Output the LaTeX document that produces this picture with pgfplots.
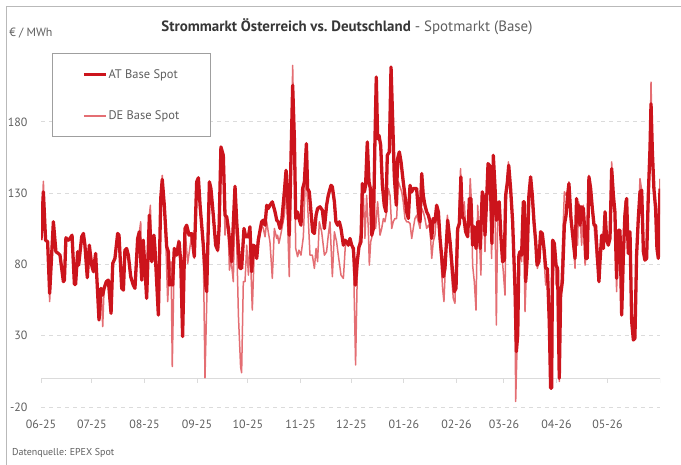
\documentclass[border=0pt]{standalone}
\usepackage{fontspec}
\setmainfont{PT Sans}
\usepackage{pgfplots}
\pgfplotsset{compat=1.18}
\definecolor{atred}{RGB}{204,20,28}
\definecolor{dered}{RGB}{228,110,115}
\definecolor{txtgray}{RGB}{95,95,95}
\definecolor{titlegray}{RGB}{55,55,55}
\begin{document}
\begin{tikzpicture}
\useasboundingbox (0,0) rectangle (681bp,-465bp);
\draw[gray!55, line width=1bp] (6bp,-465bp) -- (6bp,-6bp) -- (681bp,-6bp);
\begin{axis}[
  at={(41bp,-407bp)}, anchor=south west,
  scale only axis, width=619bp, height=363.6bp,
  xmin=0, xmax=365, ymin=-20, ymax=235,
  axis line style={draw=none},
  major tick length=0pt,
  xtick={0,30,61,92,122,153,183,214,245,273,304,334},
  xticklabels={06-25,07-25,08-25,09-25,10-25,11-25,12-25,01-26,02-26,03-26,04-26,05-26},
  ytick={-20,30,80,130,180},
  ymajorgrids,
  grid style={color=gray!28, line width=0.8bp, dash pattern=on 4bp off 4bp},
  tick label style={font=\fontsize{12}{14}\selectfont, text=txtgray},
  yticklabel style={xshift=-10bp},
  xticklabel style={yshift=-9bp},
  /pgf/number format/assume math mode=true,
  legend style={at={(0.0173,0.9744)}, anchor=north west, draw=gray!75, line width=1bp, fill=white,
    inner xsep=30bp, inner ysep=15bp, row sep=29bp,
    font=\fontsize{12.5}{15}\selectfont, text=txtgray,
    nodes={inner sep=1bp}},
  legend cell align=left,
  legend image code/.code={\draw[#1] (0bp,0bp) -- (22bp,0bp);},
  reverse legend,
]
\draw[gray!28, line width=1bp] (axis cs:0,0) -- (axis cs:365,0);
\pgfplotsinvokeforeach{0,30,61,92,122,153,183,214,245,273,304,334,365}{
  \draw[gray!28, line width=1bp] (axis cs:#1,0) -- ([yshift=-4.5bp]axis cs:#1,0);
}
% DE Base Spot
\addplot[dered, line width=1.5bp, line join=round] coordinates {
(0.0,97.0) (1.4,138.3) (2.7,97.0) (3.9,95.9) (5.1,53.9) (7.3,109.9) (8.8,88.9) (10.2,87.7) (11.2,86.5) (13.2,67.9) (13.8,69.0) (14.7,98.7) (16.1,97.0) (17.1,98.2) (18.3,100.5) (19.7,66.0) (20.4,66.0) (21.6,88.9) (22.2,79.5) (24.0,99.4) (25.0,101.7) (25.9,93.5) (27.3,70.7) (28.5,93.5) (29.9,79.5) (30.9,74.9) (32.2,87.7) (34.2,41.0) (35.4,63.2) (36.4,36.4) (37.2,63.2) (38.5,67.9) (39.7,69.0) (41.3,45.7) (42.3,80.7) (43.6,84.2) (45.2,101.7) (46.0,100.5) (47.6,63.2) (48.6,62.0) (49.5,90.0) (50.5,91.2) (51.5,86.5) (52.9,71.4) (54.4,65.5) (55.4,63.2) (57.0,98.2) (58.0,102.9) (58.8,109.9) (59.4,69.0) (60.3,97.0) (62.3,56.2) (63.9,114.5) (64.5,121.5) (65.3,81.9) (66.6,100.5) (67.2,91.2) (69.2,44.5) (70.6,126.2) (71.5,142.5) (73.1,114.5) (74.7,53.9) (75.7,77.2) (76.7,81.9) (77.4,8.4) (78.6,86.5) (80.0,91.2) (81.0,97.0) (82.4,77.2) (83.5,29.4) (84.9,105.2) (86.5,80.7) (88.8,100.5) (90.4,84.2) (91.8,135.5) (92.8,141.4)
(93.8,119.2) (95.7,91.2) (96.7,0.5) (97.7,51.5) (99.3,135.5) (100.2,128.5) (101.6,112.2) (103.0,92.4) (104.2,88.9) (105.0,102.9) (106.1,160.0) (107.5,151.9) (108.5,100.5) (109.5,112.2) (110.5,100.5) (111.1,76.0) (112.0,84.2) (113.4,67.9) (114.4,128.5) (115.4,95.9) (116.4,44.5) (117.7,8.0) (118.3,4.0) (119.3,67.9) (120.3,67.9) (121.3,93.5) (122.3,72.5) (123.2,95.9) (124.6,48.0) (125.8,91.2) (127.2,84.2) (128.1,93.5) (130.1,107.5) (131.1,105.2) (132.1,99.4) (133.1,109.9) (134.0,102.9) (135.0,95.9) (136.4,70.2) (137.6,105.2) (139.0,98.2) (139.5,100.5) (140.3,94.7) (141.5,101.7)
(143.5,114.5) (144.5,133.2) (145.4,109.9) (146.4,71.4) (147.4,144.9) (148.4,219.6) (149.4,156.5) (150.2,91.2) (151.3,85.4) (152.1,90.0) (153.3,86.5) (154.7,99.4) (155.7,133.2) (156.6,137.9) (157.6,112.2) (158.6,86.5) (160.0,86.5) (161.2,77.2) (162.2,91.2) (163.1,81.9) (164.1,109.9) (165.5,102.9) (167.1,86.5) (168.4,88.9) (169.4,100.5) (170.4,109.9) (171.8,71.4) (173.0,102.9) (174.3,95.9) (175.3,86.5) (176.9,72.5) (178.3,70.2) (179.6,95.9) (181.2,93.5) (182.8,95.9) (184.2,86.5) (185.5,9.5) (186.7,86.5) (188.1,100.0)
(189.1,105.2) (190.1,128.5) (191.0,98.2) (192.0,128.5) (193.0,105.2) (193.6,79.5) (194.4,95.9) (195.4,100.5) (196.3,116.9) (197.3,105.2) (198.5,123.9) (199.3,109.9) (199.9,100.5) (200.9,105.2) (201.9,112.2) (202.8,109.9) (203.8,116.9) (204.8,133.2) (205.8,128.5) (206.8,105.2) (207.7,109.9) (208.7,112.2) (209.7,112.2) (210.7,137.9) (211.7,134.4) (212.7,130.9) (213.6,123.9) (214.6,112.2) (215.6,109.9) (216.6,109.9) (217.6,108.7) (218.6,98.2) (219.5,105.2) (220.5,112.2) (221.5,114.5) (222.5,109.9) (223.5,105.2) (224.5,119.2) (225.4,116.9) (226.4,112.2) (227.4,105.2) (228.4,107.5) (229.4,105.2) (230.4,84.2) (231.3,95.9) (232.3,100.5) (233.3,116.9) (234.7,102.9)
(235.9,81.9) (236.8,63.2) (237.6,53.9) (238.6,81.9) (239.6,114.5) (240.8,98.2) (242.1,72.5) (243.1,56.2) (244.1,52.7) (245.1,102.9) (246.1,105.2) (247.4,147.2) (248.4,112.2) (249.6,123.9) (250.6,100.5) (252.0,105.2) (253.1,140.2) (253.9,121.5) (254.5,79.5) (255.5,67.9) (256.5,48.0) (257.5,121.5) (258.5,98.2) (259.4,72.5) (260.2,130.9) (261.0,119.2) (261.8,88.9) (262.8,126.2) (263.8,140.2) (264.7,133.2) (265.7,84.2) (266.7,154.2) (267.7,121.5) (268.5,37.5) (269.3,114.5) (270.2,121.5) (271.2,93.5) (272.6,74.9) (273.6,58.5) (274.4,128.5) (275.6,151.9) (276.9,133.2) (278.1,105.2) (279.5,51.5) (279.9,-16.1) (280.7,21.2) (281.5,74.9) (282.4,88.9)
(283.4,81.9) (284.4,123.9) (285.4,46.9) (286.4,81.9) (287.7,123.9) (288.7,140.2) (290.3,109.9) (291.7,95.9) (292.7,77.2) (293.6,81.9) (294.6,102.9) (296.2,91.2) (297.6,65.5) (298.6,77.2) (299.7,32.9) (300.5,-6.8) (301.1,-6.8) (301.7,97.0) (302.7,86.5) (303.7,65.5) (304.6,77.2) (305.6,-2.1) (306.6,63.2) (308.6,130.9) (309.6,128.5) (310.5,130.9) (311.3,137.9) (312.5,114.5) (313.9,93.5) (314.9,77.2) (315.8,123.9) (316.4,93.5) (317.0,123.9) (317.8,114.5) (318.8,93.5) (319.8,121.5) (320.8,79.5) (321.7,88.9) (323.1,142.5) (324.7,121.5) (326.1,107.5) (327.6,84.2) (329.0,70.2)
(329.6,81.9) (330.6,100.5) (331.6,91.2) (332.6,116.9) (333.5,98.2) (334.5,93.5) (335.5,98.2) (336.5,151.9) (337.5,128.5) (338.4,116.9) (339.4,60.9) (340.4,104.0) (341.4,104.0) (342.4,44.5) (343.4,86.5) (344.3,123.9) (345.3,126.2) (346.3,87.7) (347.3,102.9) (348.3,39.9) (349.3,27.0) (350.2,28.2) (351.2,86.5) (352.2,112.2) (353.2,140.2) (354.2,132.0) (355.2,88.9) (356.1,83.0) (357.1,84.2) (358.1,128.5) (359.1,161.2) (359.7,207.9) (360.5,158.9) (361.4,130.9) (362.4,119.2) (363.2,91.2) (364.0,84.2) (365.0,140.2)
};
\addlegendentry{DE Base Spot}
% AT Base Spot
\addplot[atred, line width=3.3bp, line join=round] coordinates {
(0.0,97.0) (1.4,130.9) (2.7,97.0) (3.9,95.9) (5.1,59.7) (7.3,109.9) (8.8,88.9) (10.2,87.7) (11.2,86.5) (13.2,67.9) (13.8,69.0) (14.7,98.7) (16.1,97.0) (17.1,98.2) (18.3,100.5) (19.7,66.0) (20.4,66.0) (21.6,88.9) (22.2,79.5) (24.0,99.4) (25.0,101.7) (25.9,93.5) (27.3,70.7) (28.5,93.5) (29.9,79.5) (30.9,74.9) (32.2,87.7) (34.2,41.0) (35.4,63.2) (36.4,58.5) (37.2,63.2) (38.5,67.9) (39.7,69.0) (41.3,45.7) (42.3,80.7) (43.6,84.2) (45.2,101.7)
(46.0,100.5) (47.6,63.2) (48.6,62.0) (49.5,90.0) (50.5,91.2) (51.5,86.5) (52.9,71.4) (54.4,65.5) (55.4,63.2) (57.0,98.2) (58.0,102.9) (59.4,69.0) (60.3,97.0) (62.3,56.2) (63.9,114.5) (65.3,81.9) (66.6,100.5) (67.2,91.2) (69.2,44.5) (70.6,126.2) (71.5,139.7) (72.7,121.5) (74.1,92.4) (75.1,88.9) (75.7,65.5) (76.7,66.7) (77.6,65.5) (78.6,91.2) (80.0,86.5) (81.4,95.9) (82.4,81.9) (83.5,29.4) (84.9,105.2) (85.9,107.5) (87.3,100.5) (88.8,101.7) (90.4,85.4) (91.8,137.9) (92.8,140.7)
(93.8,121.5) (95.7,93.5) (97.3,63.2) (97.7,60.9) (99.3,137.9) (100.2,133.2) (101.6,114.5) (103.0,93.5) (104.2,90.0) (105.0,105.2) (106.1,162.4) (107.5,156.5) (108.5,114.5) (109.5,113.4) (110.5,105.2) (111.6,91.2) (112.4,81.9) (114.4,134.8) (115.4,109.9) (116.4,91.2) (117.3,77.2) (118.3,77.2) (119.7,105.2) (120.7,99.4) (122.3,99.4) (123.2,106.4) (124.2,74.9) (125.2,93.5) (126.2,92.4) (127.2,84.2) (128.1,97.0) (130.1,109.9) (131.1,111.0) (132.1,107.5) (133.1,121.5) (134.0,119.2) (135.0,121.5) (136.4,123.9) (138.0,116.9) (139.0,111.0) (139.9,109.9) (140.9,105.2)
(141.9,109.9) (143.5,130.9) (144.5,146.0) (145.4,128.5) (146.4,100.5) (147.4,154.2) (148.4,205.6) (149.4,168.2) (150.2,112.2) (151.1,116.9) (152.1,112.2) (153.3,107.5) (154.3,133.2) (155.3,137.9) (156.5,164.7) (157.2,133.2) (158.2,130.9) (159.2,116.9) (160.2,102.9) (161.2,101.7) (162.2,114.5) (163.1,119.2) (164.5,120.4) (165.9,118.0) (167.1,105.2) (168.4,121.5) (169.4,128.5) (171.0,135.5) (171.8,134.4) (173.0,123.9) (173.9,109.9) (174.9,107.5) (175.9,109.9) (176.9,105.2) (178.3,93.5) (179.3,97.0) (180.2,95.9) (181.2,93.5) (182.2,98.2) (183.2,93.5) (184.2,91.2) (185.4,65.5) (186.5,81.9) (187.5,92.4) (188.7,95.9)
(189.5,136.7) (190.7,130.9) (191.4,135.5) (192.4,165.9) (193.4,137.9) (194.2,133.2) (195.0,100.5) (196.0,105.2) (196.9,165.9) (197.7,211.4) (198.5,168.2) (199.3,170.5) (200.3,163.5) (201.3,135.5) (202.4,121.5) (203.4,116.9) (204.2,156.5) (205.4,158.9) (206.4,218.4) (207.4,179.9) (208.3,142.5) (209.5,121.5) (210.3,154.2) (211.3,158.9) (212.3,151.9) (213.6,137.9) (214.6,128.5) (215.6,116.9) (216.6,112.2) (217.6,135.5) (218.6,130.9) (219.5,133.2) (221.5,133.2) (222.5,116.9) (223.5,109.9) (224.5,143.7) (225.4,128.5) (226.4,121.5) (227.4,116.9) (228.4,114.5) (229.4,109.9) (230.4,98.2) (231.3,112.2) (232.3,109.9) (233.3,121.5) (234.3,116.9)
(235.3,98.0) (236.2,86.5) (237.2,71.4) (238.2,77.2) (239.8,111.0) (241.2,95.9) (242.5,77.2) (243.7,60.9) (244.7,63.2) (245.7,105.2) (246.7,108.7) (247.6,141.4) (248.4,113.4) (249.4,112.2) (250.4,102.9) (251.6,99.4) (252.6,126.2) (253.5,126.2) (254.5,93.5) (255.5,106.4) (256.5,91.2) (257.5,109.9) (258.3,109.9) (259.0,91.2) (260.2,130.9) (261.2,126.2) (261.8,100.5) (262.8,126.2) (263.6,150.7) (264.4,149.5) (265.3,123.9) (265.9,94.7) (266.7,156.5) (267.7,134.4) (268.5,111.0) (269.3,122.7) (270.2,123.9) (271.2,99.4) (272.2,81.9) (273.2,83.0) (274.0,128.5) (275.0,137.9) (275.8,149.5) (276.9,133.2) (278.1,109.9) (279.5,63.2) (280.3,18.9) (281.1,30.5) (281.8,86.5)
(282.4,88.9) (283.4,86.5) (284.4,123.9) (285.0,123.9) (285.8,67.9) (286.6,81.9) (287.7,128.5) (288.7,141.4) (289.7,128.5) (290.7,109.9) (291.7,95.9) (292.5,79.5) (293.6,81.9) (294.6,102.9) (295.6,101.7) (296.6,91.2) (297.6,77.2) (298.6,77.2) (299.7,39.9) (300.5,-6.8) (301.1,-6.8) (301.7,97.0) (302.7,94.7) (303.7,79.5) (304.6,77.2) (305.6,0.2) (306.4,58.5) (307.4,67.9) (308.6,107.5) (309.6,114.5) (310.5,128.5) (311.3,136.7) (312.5,112.2) (313.9,95.9) (314.9,84.2) (315.8,126.2) (316.4,109.9) (317.0,121.5) (317.8,107.5) (318.8,120.4) (319.8,119.2) (320.4,107.5) (321.2,84.2) (322.1,84.2) (323.1,141.4) (324.1,133.2) (325.1,119.2) (326.1,107.5) (327.0,107.5) (328.0,86.5) (329.0,67.9)
(329.6,81.9) (330.6,100.5) (331.6,91.2) (332.6,116.9) (333.5,98.2) (334.5,93.5) (335.5,98.2) (336.5,147.2) (337.5,128.5) (338.4,116.9) (339.4,70.2) (340.4,104.0) (341.4,104.0) (342.4,44.5) (343.4,86.5) (344.3,114.5) (345.3,126.2) (346.3,87.7) (347.3,102.9) (348.3,39.9) (349.3,27.0) (350.2,28.2) (351.2,86.5) (352.2,112.2) (353.2,130.9) (354.2,132.0) (355.2,88.9) (356.1,83.0) (357.1,84.2) (358.1,128.5) (359.1,161.2) (359.7,192.7) (360.5,158.9) (361.4,133.2) (362.4,119.2) (363.2,91.2) (364.0,84.2) (365.0,133.2)
};
\addlegendentry{AT Base Spot}
\end{axis}
\node[anchor=west, text=txtgray, font=\fontsize{12}{14}\selectfont, inner sep=0pt] at (9.3bp,-33bp) {€ / MWh};
\node[anchor=center, inner sep=0pt, font=\fontsize{15}{18}\selectfont] at (347bp,-27bp) {\textcolor{titlegray}{\bfseries Strommarkt Österreich vs.\ Deutschland}\space\textcolor{txtgray}{- Spotmarkt (Base)}};
\node[anchor=west, text=txtgray, font=\fontsize{10}{12}\selectfont, inner sep=0pt] at (12bp,-453bp) {Datenquelle: EPEX Spot};
\end{tikzpicture}
\end{document}
